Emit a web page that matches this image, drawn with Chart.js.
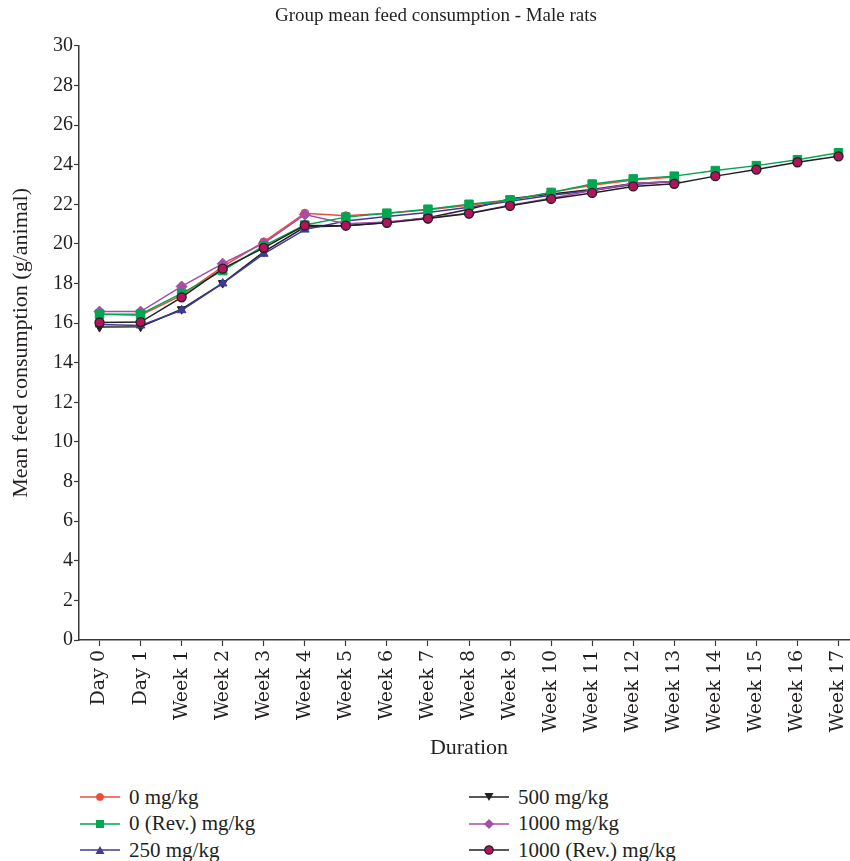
<!DOCTYPE html>
<html>
<head>
<meta charset="utf-8">
<script src="https://cdn.jsdelivr.net/npm/chart.js@4.4.1/dist/chart.umd.min.js"></script>
<style>
    html, body { margin: 0; padding: 0; background: #fff; overflow: hidden; }
    body { width: 850px; height: 861px; position: relative; }
    #chartBox { position: absolute; left: 0; top: 0; width: 866px; height: 762px; }
    .legend-item { position: absolute; display: flex; align-items: center; height: 24px;
        font-family: 'Liberation Serif', serif; font-size: 21px; color: #231F20; white-space: nowrap; }
    .legend-item svg { margin-right: 9px; }
</style>
</head>
<body>
<div id="chartBox"><canvas id="feedChart"></canvas></div>
<div id="legend"></div>
<script>
const labels = ['Day 0', 'Day 1', 'Week 1', 'Week 2', 'Week 3', 'Week 4', 'Week 5', 'Week 6', 'Week 7',
    'Week 8', 'Week 9', 'Week 10', 'Week 11', 'Week 12', 'Week 13', 'Week 14', 'Week 15', 'Week 16', 'Week 17'];

const seriesNames = ['0 mg/kg', '0 (Rev.) mg/kg', '250 mg/kg', '500 mg/kg', '1000 mg/kg', '1000 (Rev.) mg/kg'];

// main groups stop at Week 13, recovery groups run to Week 17
const dose0 = [16.45, 16.40, 17.40, 18.85, 20.10, 21.55, 21.42, 21.55, 21.72, 21.95, 22.20, 22.60, 22.96, 23.22, 23.38];
const dose0Rev = [16.45, 16.45, 17.50, 18.65, 19.90, 20.95, 21.35, 21.55, 21.75, 22.00, 22.22, 22.60, 23.02, 23.28, 23.42, 23.70, 23.95, 24.25, 24.60];
const dose250 = [15.93, 15.88, 16.65, 18.00, 19.50, 20.72, 21.15, 21.38, 21.58, 21.85, 22.15, 22.45, 22.70, 23.00, 23.15];
const dose500 = [15.80, 15.82, 16.70, 18.02, 19.60, 20.85, 20.92, 21.08, 21.32, 21.75, 22.28, 22.52, 22.75, 23.05, 23.15];
const dose1000 = [16.58, 16.58, 17.85, 19.00, 20.03, 21.48, 21.02, 21.10, 21.30, 21.55, 21.95, 22.30, 22.70, 23.05, 23.15];
const dose1000Rev = [16.03, 16.05, 17.30, 18.75, 19.80, 20.93, 20.92, 21.06, 21.28, 21.53, 21.92, 22.27, 22.57, 22.90, 23.03, 23.42, 23.75, 24.12, 24.42];

const yMin = 0;
const yMax = 30;
const yStep = 2;

// styling per series
const lineColors = ['#EF4B3C', '#00A651', '#3D3B96', '#231F20', '#A84CA6', '#231F20'];
const markerFills = ['#EF4B3C', '#00A651', '#3D3B96', '#231F20', '#A84CA6', '#B2135A'];
const markerBorders = ['#EF4B3C', '#00A651', '#3D3B96', '#231F20', '#A84CA6', '#231F20'];
const markerStyles = ['circle', 'rect', 'triangle', 'triangle', 'rectRot', 'circle'];
const markerRotations = [0, 0, 0, 180, 0, 0];
const markerSizes = [4, 6, 5, 5, 5.5, 4.5];
const drawOrder = [3, 1, 4, 5, 2, 0];

const serif = "'Liberation Serif', 'Times New Roman', serif";
const axisColor = '#3a3a3a';
const textColor = '#231F20';

const seriesData = [dose0, dose0Rev, dose250, dose500, dose1000, dose1000Rev];

const datasets = seriesData.map((values, i) => ({
    label: seriesNames[i],
    data: values,
    borderColor: lineColors[i],
    backgroundColor: markerFills[i],
    pointBackgroundColor: markerFills[i],
    pointBorderColor: markerBorders[i],
    pointBorderWidth: i === 5 ? 1.3 : 1,
    pointStyle: markerStyles[i],
    pointRotation: markerRotations[i],
    pointRadius: markerSizes[i],
    pointHoverRadius: markerSizes[i],
    borderWidth: 1.5,
    tension: 0,
    fill: false,
    order: drawOrder[i]
}));

new Chart(document.getElementById('feedChart'), {
    type: 'line',
    data: { labels: labels, datasets: datasets },
    options: {
        responsive: true,
        maintainAspectRatio: false,
        animation: false,
        layout: { padding: { left: 6, right: 0, top: 0, bottom: 0 } },
        plugins: {
            legend: { display: false },
            tooltip: { enabled: false },
            title: {
                display: true,
                text: 'Group mean feed consumption - Male rats',
                color: textColor,
                font: { family: serif, size: 19, weight: 'normal' },
                padding: { top: 5, bottom: 18 }
            }
        },
        scales: {
            x: {
                type: 'category',
                offset: true,
                afterFit(scale) { scale.height = 122; },
                grid: { drawOnChartArea: false, tickLength: 6, color: axisColor, tickWidth: 1.2 },
                border: { display: true, color: axisColor, width: 1.5 },
                ticks: {
                    minRotation: 90, maxRotation: 90, autoSkip: false, padding: 4,
                    color: textColor,
                    font: { family: "'DejaVu Serif', serif", size: 19 }
                },
                title: {
                    display: true, text: 'Duration', color: textColor,
                    font: { family: serif, size: 22 }, padding: { top: 0, bottom: 1 }
                }
            },
            y: {
                min: yMin,
                max: yMax,
                afterFit(scale) { scale.width = 73; },
                grid: { drawOnChartArea: false, tickLength: 5, color: axisColor, tickWidth: 1.2 },
                border: { display: true, color: axisColor, width: 1.5 },
                ticks: {
                    stepSize: yStep, padding: 1, color: textColor,
                    font: { family: serif, size: 20 }
                },
                title: {
                    display: true, text: 'Mean feed consumption (g/animal)', color: textColor,
                    font: { family: serif, size: 22 }, padding: { top: 2, bottom: 0 }
                }
            }
        }
    }
});

// legend in two columns, three rows
function markerSvg(i) {
    const fill = markerFills[i];
    const stroke = markerBorders[i];
    const cx = 20, cy = 8;
    let shape = '';
    if (markerStyles[i] === 'circle') {
        shape = `<circle cx="${cx}" cy="${cy}" r="${i === 5 ? 4.2 : 3.6}" fill="${fill}" stroke="${stroke}" stroke-width="${i === 5 ? 1.3 : 0.8}"/>`;
    } else if (markerStyles[i] === 'rect') {
        shape = `<rect x="${cx - 4}" y="${cy - 4}" width="8" height="8" fill="${fill}"/>`;
    } else if (markerStyles[i] === 'rectRot') {
        shape = `<polygon points="${cx},${cy - 5} ${cx + 5},${cy} ${cx},${cy + 5} ${cx - 5},${cy}" fill="${fill}"/>`;
    } else if (markerRotations[i] === 180) {
        shape = `<polygon points="${cx - 4.5},${cy - 4} ${cx + 4.5},${cy - 4} ${cx},${cy + 4}" fill="${fill}"/>`;
    } else {
        shape = `<polygon points="${cx - 4.5},${cy + 4} ${cx + 4.5},${cy + 4} ${cx},${cy - 4}" fill="${fill}"/>`;
    }
    return `<svg width="40" height="16"><line x1="0" y1="${cy}" x2="40" y2="${cy}" stroke="${lineColors[i]}" stroke-width="1.5"/>${shape}</svg>`;
}

const legendBox = document.getElementById('legend');
seriesNames.forEach((name, i) => {
    const col = i < 3 ? 0 : 1;
    const row = i % 3;
    const item = document.createElement('div');
    item.className = 'legend-item';
    item.style.left = (col === 0 ? 80 : 469) + 'px';
    item.style.top = (785 + row * 26.5) + 'px';
    item.innerHTML = markerSvg(i) + '<span>' + name + '</span>';
    legendBox.appendChild(item);
});
</script>
</body>
</html>
